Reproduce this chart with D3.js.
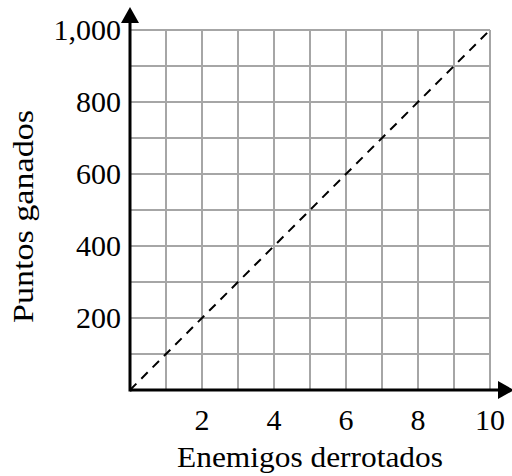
<!DOCTYPE html>
<html>
<head>
<meta charset="utf-8">
<script src="https://cdn.jsdelivr.net/npm/d3@7"></script>
<style>
html,body{margin:0;padding:0;background:#fff;}
svg{display:block;}
text{font-family:"Times New Roman",Times,"Liberation Serif",serif;fill:#000;}
</style>
</head>
<body>
<svg id="chart" width="512" height="476"></svg>
<script>
const xTicks = [2, 4, 6, 8, 10];
const yTicks = [200, 400, 600, 800, 1000];
const xGrid = [1, 2, 3, 4, 5, 6, 7, 8, 9, 10];
const yGrid = [100, 200, 300, 400, 500, 600, 700, 800, 900, 1000];
const lineX = [0, 10];
const lineY = [0, 1000];
const xLabel = "Enemigos derrotados";
const yLabel = "Puntos ganados";

const svg = d3.select("#chart");
const x = d3.scaleLinear().domain([0, 10]).range([130, 490]);
const y = d3.scaleLinear().domain([0, 1000]).range([390, 30]);

// grid
svg.append("g").selectAll("line").data(xGrid).join("line")
  .attr("x1", d => x(d)).attr("x2", d => x(d))
  .attr("y1", y(0)).attr("y2", y(1000))
  .attr("stroke", "#a6a6a6").attr("stroke-width", 2);
svg.append("g").selectAll("line").data(yGrid).join("line")
  .attr("y1", d => y(d)).attr("y2", d => y(d))
  .attr("x1", x(0)).attr("x2", x(10))
  .attr("stroke", "#a6a6a6").attr("stroke-width", 2);

// dashed line
const pts = lineX.map((v, i) => [v, lineY[i]]);
svg.append("path")
  .attr("d", d3.line().x(d => x(d[0])).y(d => y(d[1]))(pts))
  .attr("fill", "none").attr("stroke", "#000").attr("stroke-width", 2)
  .attr("stroke-dasharray", "9,7");

// axes
svg.append("line").attr("x1", x(0)).attr("x2", 499).attr("y1", y(0)).attr("y2", y(0))
  .attr("stroke", "#000").attr("stroke-width", 3);
svg.append("line").attr("x1", x(0)).attr("x2", x(0)).attr("y1", y(0)+1.5).attr("y2", 22)
  .attr("stroke", "#000").attr("stroke-width", 3);
// arrowheads
svg.append("path").attr("d", `M${x(0)-9},23 L${x(0)},7 L${x(0)+9},23 Z`).attr("fill", "#000");
svg.append("path").attr("d", `M498,${y(0)-9} L514,${y(0)} L498,${y(0)+9} Z`).attr("fill", "#000");

// tick labels
svg.append("g").selectAll("text").data(xTicks).join("text")
  .attr("x", d => x(d)).attr("y", 430)
  .attr("text-anchor", "middle").attr("font-size", 30)
  .text(d => d3.format(",")(d));
svg.append("g").selectAll("text").data(yTicks).join("text")
  .attr("x", 121).attr("y", d => y(d)).attr("dy", "0.34em")
  .attr("text-anchor", "end").attr("font-size", 30)
  .text(d => d3.format(",")(d));

// axis titles
svg.append("text").attr("x", 310).attr("y", 467).attr("text-anchor", "middle")
  .attr("font-size", 30).attr("textLength", 266).attr("lengthAdjust", "spacingAndGlyphs")
  .text(xLabel);
svg.append("text").attr("transform", "translate(33,216.5) rotate(-90)")
  .attr("text-anchor", "middle").attr("font-size", 30)
  .attr("textLength", 213).attr("lengthAdjust", "spacingAndGlyphs")
  .text(yLabel);
</script>
</body>
</html>
